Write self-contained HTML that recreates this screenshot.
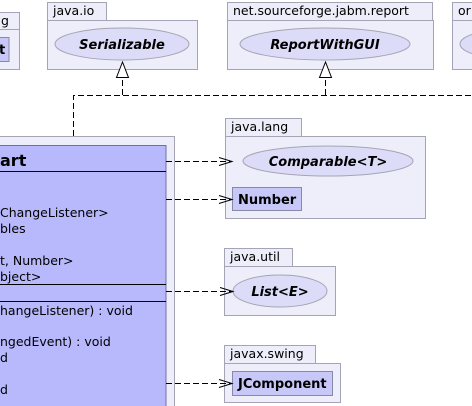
<!DOCTYPE html>
<html><head><meta charset="utf-8"><style>
html,body{margin:0;padding:0;background:#fff;}
svg{display:block;}
text{font-family:"DejaVu Sans","Liberation Sans",sans-serif;fill:#000;}
</style></head><body>
<svg width="472" height="406" viewBox="0 0 472 406" xmlns="http://www.w3.org/2000/svg">
<defs>
<style>
.pk{fill:#eeeefb;stroke:#a4a4b4;stroke-width:1}
.el{fill:#dcdcf8;stroke:#a4a4b4;stroke-width:1}
.bx{fill:#c8c8f8;stroke:#8888a8;stroke-width:1}
.dl{stroke:#000;stroke-width:1;stroke-dasharray:6,3;fill:none}
.ah{stroke:#000;stroke-width:1;fill:none}
.tri{stroke:#000;stroke-width:1;fill:#fff}
.t{font-size:12.5px}
.b{font-size:13px;font-weight:bold}
.bi{font-size:13px;font-weight:bold;font-style:italic}
</style>
</defs>
<rect class="pk" x="-10" y="12.5" width="29.5" height="17"/>
<rect class="pk" x="-10" y="29.5" width="29.5" height="40"/>
<text class="t" x="1" y="25">g</text>
<rect class="bx" x="-10" y="37.5" width="19" height="24"/>
<text class="b" x="-1" y="54">t</text>

<rect class="pk" x="47.5" y="2.5" width="59" height="18"/>
<rect class="pk" x="47.5" y="20.5" width="150" height="49"/>
<text class="t" x="53" y="15">java.io</text>
<ellipse class="el" cx="122" cy="44" rx="67" ry="16"/>
<text class="bi" x="122" y="49" text-anchor="middle">Serializable</text>

<rect class="pk" x="227.5" y="2.5" width="205" height="18"/>
<rect class="pk" x="227.5" y="20.5" width="206" height="49"/>
<text class="t" x="233" y="15">net.sourceforge.jabm.report</text>
<ellipse class="el" cx="325" cy="44" rx="85" ry="16"/>
<text class="bi" x="325" y="49" text-anchor="middle">ReportWithGUI</text>

<rect class="pk" x="452.5" y="2.5" width="40" height="18"/>
<rect class="pk" x="452.5" y="20.5" width="40" height="49"/>
<text class="t" x="458" y="15">or</text>
<ellipse class="el" cx="520" cy="44" rx="60" ry="16"/>

<path class="dl" d="M73.5 145 V95.5 H472"/>
<path class="dl" d="M122.5 95 V78"/>
<path class="dl" d="M325.5 95 V78"/>
<polygon class="tri" points="122.5,62 116.5,77.5 128.5,77.5"/>
<polygon class="tri" points="325.5,62 319.5,77.5 331.5,77.5"/>

<rect class="pk" x="-10" y="136.5" width="184.5" height="280"/>
<rect x="-10" y="145.5" width="176" height="270" fill="#b8b8fc" stroke="#7070a0"/>
<text x="0" y="166" style="font-size:16px;font-weight:bold">art</text>
<line x1="-10" y1="171.5" x2="166" y2="171.5" stroke="#000"/>
<text class="t" x="0" y="217">ChangeListener&gt;</text>
<text class="t" x="0" y="233">bles</text>
<text class="t" x="0" y="265">t, Number&gt;</text>
<text class="t" x="0" y="281">bject&gt;</text>
<line x1="-10" y1="284.5" x2="166" y2="284.5" stroke="#000"/>
<line x1="-10" y1="301.5" x2="166" y2="301.5" stroke="#000"/>
<text class="t" x="0" y="315">hangeListener) : void</text>
<text class="t" x="0" y="346">ngedEvent) : void</text>
<text class="t" x="0" y="362">d</text>
<text class="t" x="0" y="394">d</text>

<rect class="pk" x="225.5" y="118.5" width="76" height="18"/>
<rect class="pk" x="225.5" y="136.5" width="200" height="82"/>
<text class="t" x="231" y="131">java.lang</text>
<ellipse class="el" cx="328" cy="161" rx="85" ry="15"/>
<text class="bi" x="328" y="166" text-anchor="middle">Comparable&lt;T&gt;</text>
<rect class="bx" x="232.5" y="187.5" width="69" height="23"/>
<text class="b" x="238" y="204">Number</text>

<rect class="pk" x="224.5" y="248.5" width="68" height="18"/>
<rect class="pk" x="224.5" y="266.5" width="111" height="49"/>
<text class="t" x="230" y="261">java.util</text>
<ellipse class="el" cx="280" cy="291" rx="47" ry="16"/>
<text class="bi" x="280" y="296" text-anchor="middle">List&lt;E&gt;</text>

<rect class="pk" x="224.5" y="345.5" width="91" height="18"/>
<rect class="pk" x="224.5" y="363.5" width="116" height="39"/>
<text class="t" x="230" y="358">javax.swing</text>
<rect class="bx" x="232.5" y="371.5" width="100" height="24"/>
<text class="b" x="238" y="388">JComponent</text>

<line class="dl" x1="166" y1="161.5" x2="231" y2="161.5"/>
<polyline class="ah" points="219,157.5 232,161.5 219,165.5"/>
<line class="dl" x1="166" y1="199.5" x2="231" y2="199.5"/>
<polyline class="ah" points="219,195.5 232,199.5 219,203.5"/>
<line class="dl" x1="166" y1="291.5" x2="232" y2="291.5"/>
<polyline class="ah" points="220,287.5 233,291.5 220,295.5"/>
<line class="dl" x1="166" y1="383.5" x2="231" y2="383.5"/>
<polyline class="ah" points="219,379.5 232,383.5 219,387.5"/>
</svg>
</body></html>
